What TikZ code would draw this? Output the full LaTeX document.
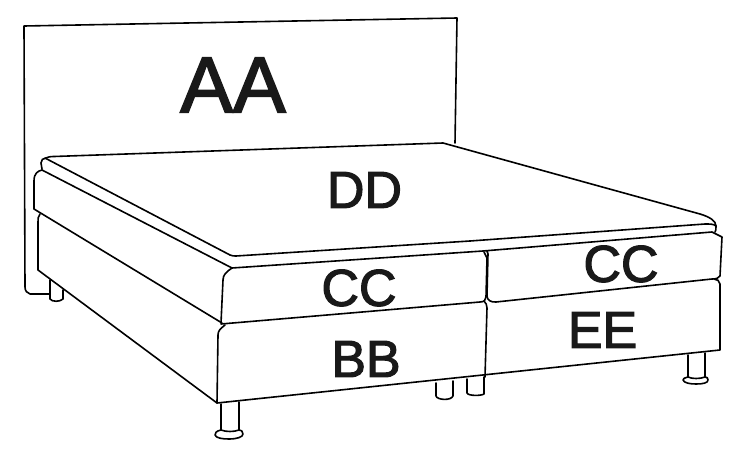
\documentclass[tikz,border=0pt]{standalone}
\usepackage{fontspec}
\setmainfont{Liberation Sans}
\newfontfamily\labfont[FakeBold=2.2]{Liberation Sans}
\tikzset{
  bedline/.style={draw=black,line width=1.6pt,line join=round,line cap=round},
  lab/.style={inner sep=0pt,text=black!90,anchor=center},
  labA/.style={lab,font=\labfont\fontsize{79}{79}\selectfont},
  labB/.style={lab,font=\labfont\fontsize{52}{52}\selectfont}
}
\begin{document}
\begin{tikzpicture}[x=1pt,y=-1pt]
\useasboundingbox (0,0) rectangle (732,450);
% headboard
\draw[bedline] (455,143) -- (457,18) -- (24,26) -- (25,287) .. controls (25,291) and (27,293) .. (30,294) -- (50,294);
% topper
\draw[bedline] (42,169) -- (41,163) .. controls (41,160) and (43,158) .. (46,158) .. controls (48,157) and (50,156.5) .. (54,156.5) -- (443,143) -- (700,214) .. controls (710,217) and (716,221) .. (716,226) .. controls (716,229) and (716,231) .. (715,232);
\draw[bedline] (45,158) -- (230,255) .. controls (232,256) and (234,256) .. (236,256) -- (470,241) -- (705,224) .. controls (710,224) and (714,224) .. (716,226);
% upper base
\draw[bedline] (42,170) .. controls (38,171) and (34,173) .. (34,181) -- (34,209) -- (222,323);
\draw[bedline] (42,170) -- (232,268) -- (483,251) -- (712,232) -- (722,237) -- (720,276) .. controls (719,278) and (716,279) .. (712,279) -- (496,302) .. controls (491,302.5) and (487,300) .. (487,296) -- (488,254) -- (487,251);
\draw[bedline] (232,268) .. controls (226,272) and (223,275) .. (223,280) -- (221,323);
\draw[bedline] (221,324) -- (480,302) .. controls (484,302) and (486,300) .. (486,297) -- (487,258) -- (484,252);
% lower base
\draw[bedline] (40,214) .. controls (38,216) and (38,219) .. (38,222) -- (38,270) -- (217,403);
\draw[bedline] (225,325) .. controls (220,329) and (218,331) .. (218,335) -- (217,403) -- (720,350) -- (720,284) .. controls (720,281) and (717,279) .. (714,279);
\draw[bedline] (484,301) .. controls (486,303) and (487,305) .. (487,308) -- (485,377);
% legs
\draw[bedline] (50,280) -- (50,299) .. controls (52,302) and (60,302) .. (63,299) -- (63,290);
\draw[bedline] (221,404) -- (221,430);
\draw[bedline] (239,402) -- (239,430);
\draw[bedline] (221,430) .. controls (216,431) and (215,433) .. (215,435) .. controls (216,438) and (222,439) .. (229,439) .. controls (237,439) and (243,437) .. (243,434) .. controls (243,431) and (241,430) .. (239,430) .. controls (234,432) and (226,432) .. (221,430);
\draw[bedline] (436,383) -- (436,396) .. controls (437,400) and (451,401) .. (453,396) -- (453,381);
\draw[bedline] (467,379) -- (467,393) .. controls (468,396) and (481,396) .. (484,394) -- (484,377);
\draw[bedline] (688,355) -- (688,377);
\draw[bedline] (705,353) -- (705,377);
\draw[bedline] (688,377) .. controls (684,378) and (683,379) .. (683,380) .. controls (684,383) and (690,384) .. (696,384) .. controls (703,384) and (708,383) .. (708,380) .. controls (708,378) and (707,377) .. (705,377) .. controls (700,379) and (692,379) .. (688,377);
% labels
\node[labA] (aa) at (233,85) {AA};
\node[labB] (dd) at (364.5,190) {DD};
\node[labB] (cc1) at (359,288) {CC};
\node[labB] (bb) at (366,359) {BB};
\node[labB] (cc2) at (621,264) {CC};
\node[labB] (ee) at (602.5,330) {EE};
\end{tikzpicture}
\end{document}
